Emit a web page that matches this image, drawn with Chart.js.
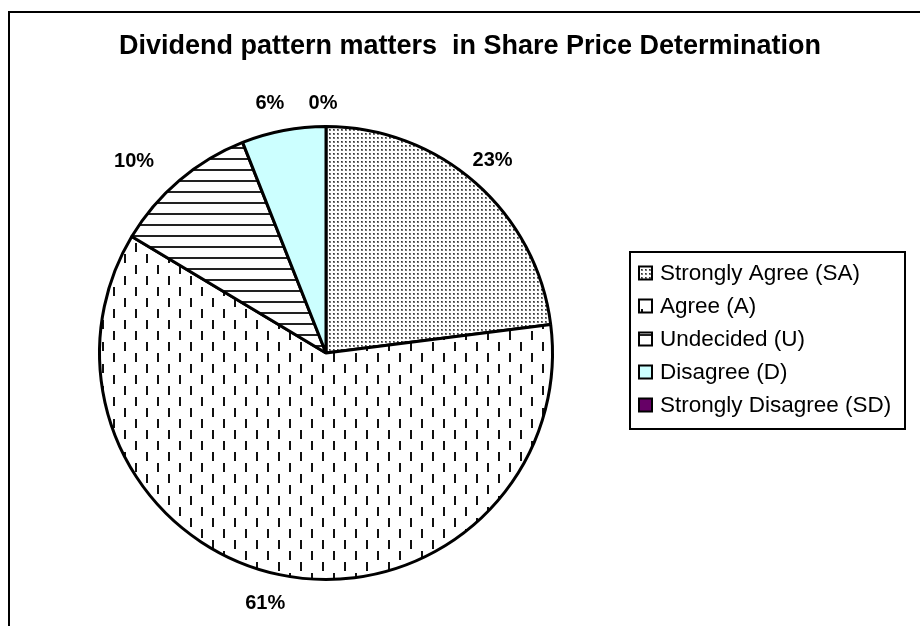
<!DOCTYPE html>
<html>
<head>
<meta charset="utf-8">
<script src="https://cdn.jsdelivr.net/npm/chart.js@4.4.0/dist/chart.umd.min.js"></script>
<style>
html,body{margin:0;padding:0;background:#fff;}
#wrap{width:920px;height:626px;position:relative;}
</style>
</head>
<body>
<div id="wrap"><canvas id="c" width="920" height="626"></canvas></div>
<script>
// ---- data ----
const titleText = 'Dividend pattern matters  in Share Price Determination';
const categories = ['Strongly Agree (SA)', 'Agree (A)', 'Undecided (U)', 'Disagree (D)', 'Strongly Disagree (SD)'];
const shares = [23, 60.6, 10.4, 6, 0];

// ---- styles ----
const FONT = '"Liberation Sans", Arial, Helvetica, sans-serif';
const canvas = document.getElementById('c');
const ctx = canvas.getContext('2d');

function makePattern(w, h, draw) {
  const c = document.createElement('canvas');
  c.width = w; c.height = h;
  const x = c.getContext('2d');
  x.fillStyle = '#fff';
  x.fillRect(0, 0, w, h);
  draw(x);
  return ctx.createPattern(c, 'repeat');
}
const dotPattern = makePattern(4, 4, x => {
  x.fillStyle = '#777'; x.fillRect(1, 1, 2, 2);
  x.fillStyle = '#333'; x.fillRect(1, 1, 1, 1);
});
const dashPattern = makePattern(22, 22, x => {
  x.fillStyle = '#111';
  x.fillRect(3, 1, 2, 9);
  x.fillRect(14, 12, 2, 9);
});
const stripePattern = makePattern(4, 11, x => {
  x.fillStyle = '#222'; x.fillRect(0, 4, 4, 2);
});
const fills = [dotPattern, dashPattern, stripePattern, '#ccffff', '#660066'];

const frameAndTitle = {
  id: 'frameAndTitle',
  beforeDraw(chart) {
    const c = chart.ctx;
    c.save();
    c.fillStyle = '#fff';
    c.fillRect(0, 0, chart.width, chart.height);
    c.fillStyle = '#000';
    c.fillRect(8, 11, chart.width, 2);
    c.fillRect(8, 11, 2, chart.height);
    c.font = 'bold 27px ' + FONT;
    c.textAlign = 'center';
    c.textBaseline = 'middle';
    c.fillText(titleText, 470, 47);
    c.restore();
  }
};

const pctLabels = {
  id: 'pctLabels',
  afterDatasetsDraw(chart, args, opts) {
    const c = chart.ctx;
    const meta = chart.getDatasetMeta(0);
    const data = chart.data.datasets[0].data;
    const total = data.reduce((a, b) => a + b, 0);
    c.save();
    c.font = 'bold 20px ' + FONT;
    c.fillStyle = '#000';
    c.textAlign = 'center';
    c.textBaseline = 'middle';
    meta.data.forEach((arc, i) => {
      const p = arc.getProps(['x', 'y', 'startAngle', 'endAngle', 'outerRadius'], true);
      const mid = (p.startAngle + p.endAngle) / 2;
      const r = p.outerRadius + opts.dist;
      const n = opts.nudge[i] || [0, 0];
      const tx = p.x + Math.cos(mid) * r + n[0];
      const ty = p.y + Math.sin(mid) * r + n[1];
      c.fillText(Math.round(data[i] / total * 100) + '%', tx, ty);
    });
    c.restore();
  }
};

const boxLegend = {
  id: 'boxLegend',
  afterDraw(chart, args, opts) {
    const c = chart.ctx;
    const ds = chart.data.datasets[0];
    c.save();
    c.strokeStyle = '#000';
    c.lineWidth = 2;
    c.strokeRect(opts.left, opts.top, opts.width, opts.height);
    c.font = opts.fontSize + 'px ' + FONT;
    c.textAlign = 'left';
    c.textBaseline = 'middle';
    chart.data.labels.forEach((lab, i) => {
      const cy = opts.top + opts.firstRow + i * opts.rowGap;
      const bx = opts.left + 9, s = 13;
      c.fillStyle = ds.backgroundColor[i];
      c.fillRect(bx, cy - s / 2, s, s);
      c.lineWidth = 2;
      c.strokeRect(bx, cy - s / 2, s, s);
      c.fillStyle = '#000';
      c.fillText(lab, opts.left + 30, cy + 1);
    });
    c.restore();
  }
};

new Chart(canvas, {
  type: 'pie',
  data: {
    labels: categories,
    datasets: [{
      data: shares,
      backgroundColor: fills,
      borderColor: '#000',
      borderWidth: 3
    }]
  },
  options: {
    responsive: false,
    animation: false,
    devicePixelRatio: 1,
    layout: { padding: { left: 98, right: 366, top: 124, bottom: 44 } },
    plugins: {
      legend: { display: false },
      title: { display: false },
      tooltip: { enabled: false },
      pctLabels: { dist: 30, nudge: [[-3, 0], [-8, -1], [-26, 4], [-8, 2], [-3, 7]] },
      boxLegend: { left: 630, top: 252, width: 275, height: 177, firstRow: 21, rowGap: 33, fontSize: 22.5 }
    }
  },
  plugins: [frameAndTitle, pctLabels, boxLegend]
});
</script>
</body>
</html>
